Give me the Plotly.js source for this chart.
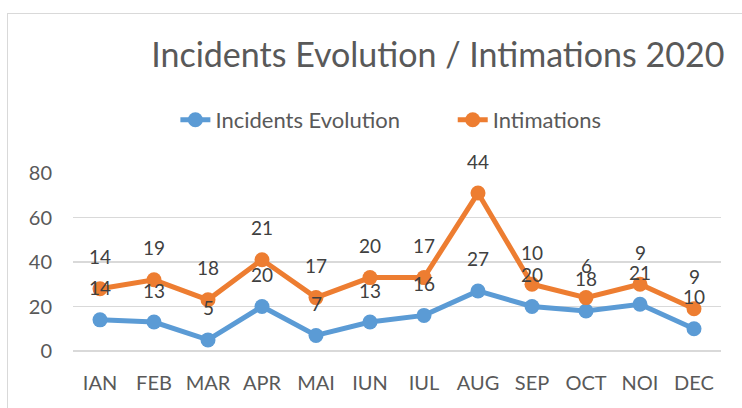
<!DOCTYPE html>
<html>
<head>
<meta charset="utf-8">
<script src="https://cdn.plot.ly/plotly-3.0.1.min.js"></script>
<style>
  html, body { margin: 0; padding: 0; background: #fff; }
  #frame { position: absolute; left: 7px; top: 13px; width: 760px; height: 420px; border: 1px solid #D9D9D9; box-sizing: border-box; }
  #chart { position: absolute; left: 0; top: 0; width: 742px; height: 408px; }
</style>
</head>
<body>
<div id="frame"></div>
<div id="chart"></div>
<script>
const months = ["IAN","FEB","MAR","APR","MAI","IUN","IUL","AUG","SEP","OCT","NOI","DEC"];
const incidents = [14, 13, 5, 20, 7, 13, 16, 27, 20, 18, 21, 10];
const intimations = [14, 19, 18, 21, 17, 20, 17, 44, 10, 6, 9, 9];
const yTicks = [0, 20, 40, 60, 80];

const stackedIntimations = intimations.map((v, i) => v + incidents[i]);

const FONT = "Lato, 'Open Sans', sans-serif";
const blue = "#5B9BD5", orange = "#ED7D31";

const traces = [
  { x: months, y: incidents, name: "Incidents Evolution", type: "scatter", mode: "lines+markers", legend: "legend",
    line: { color: blue, width: 5 }, marker: { color: blue, size: 15 }, hoverinfo: "skip" },
  { x: months, y: stackedIntimations, name: "Intimations", type: "scatter", mode: "lines+markers", legend: "legend2",
    line: { color: orange, width: 5 }, marker: { color: orange, size: 15 }, hoverinfo: "skip" }
];

const annotations = [];
months.forEach((m, i) => {
  annotations.push({ x: m, y: incidents[i], text: String(incidents[i]), showarrow: false, yshift: 32,
    font: { family: FONT, size: 19, color: "#404040" } });
  annotations.push({ x: m, y: stackedIntimations[i], text: String(intimations[i]), showarrow: false, yshift: 32,
    font: { family: FONT, size: 19, color: "#404040" } });
});

const legendCommon = { orientation: "h", yanchor: "middle", y: 1.298, xanchor: "left",
  font: { family: FONT, size: 22, color: "#595959" }, bgcolor: "rgba(0,0,0,0)" };

const layout = {
  width: 742, height: 408,
  paper_bgcolor: "rgba(0,0,0,0)", plot_bgcolor: "rgba(0,0,0,0)",
  margin: { l: 73, r: 21, t: 173, b: 57 },
  font: { family: FONT, color: "#595959" },
  title: { text: "Incidents Evolution / Intimations 2020", x: 0.59, xanchor: "center", y: 0.865, yanchor: "middle",
    font: { family: FONT, size: 34, color: "#595959" } },
  showlegend: true,
  legend: Object.assign({}, legendCommon, { x: 0.158 }),
  legend2: Object.assign({}, legendCommon, { x: 0.586 }),
  xaxis: { type: "category", range: [-0.5, 11.5], showgrid: false, showline: false, ticks: "", zeroline: false,
    ticklabelstandoff: 18,
    tickfont: { family: FONT, size: 20, color: "#595959" }, fixedrange: true },
  yaxis: { range: [0, 80], tickvals: yTicks, ticktext: yTicks.map(String), showgrid: true, gridcolor: "#D9D9D9", gridwidth: 1.5,
    zeroline: true, zerolinecolor: "#D9D9D9", zerolinewidth: 1.5, showline: false, ticks: "",
    ticklabelstandoff: 20,
    tickfont: { family: FONT, size: 20, color: "#595959" }, fixedrange: true },
  annotations: annotations
};

Plotly.newPlot("chart", traces, layout, { displayModeBar: false, staticPlot: true });
</script>
</body>
</html>
